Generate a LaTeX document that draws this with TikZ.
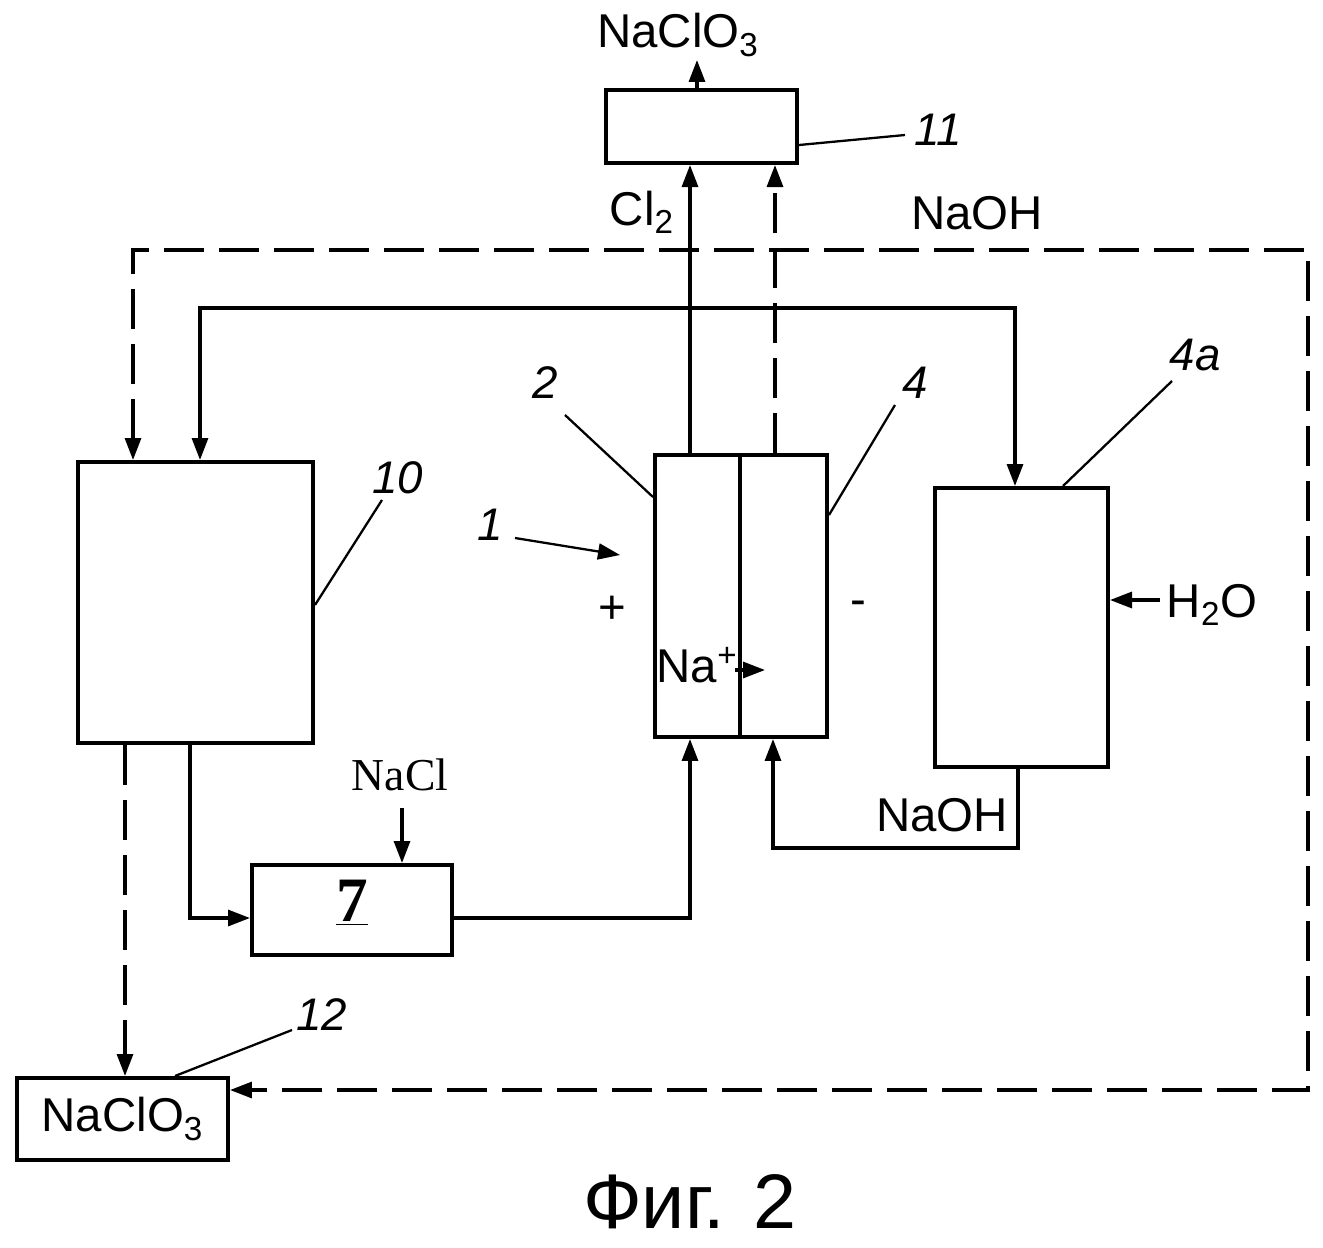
\documentclass[tikz,border=0pt]{standalone}
\usepackage{fontspec}
\setmainfont{Liberation Sans}
\newfontfamily\serifnum{Liberation Serif}
\usetikzlibrary{arrows.meta}

\begin{document}
\begin{tikzpicture}[x=0.02cm, y=-0.02cm, line width=1.8pt,
    >={Triangle[length=0.44cm, width=0.32cm]},
    unit/.style={rectangle, draw, line width=2.3pt, inner sep=0pt},
    dashline/.style={dash pattern=on 0.8cm off 0.3cm},
    lead/.style={line width=1.3pt},
    ref/.style={font=\fontsize{26}{28}\selectfont\itshape},
    chem/.style={font=\fontsize{27}{30}\selectfont}]
            \useasboundingbox (0,0) rectangle (1323,1248);

              % units
              \node[unit, minimum width=4.7cm, minimum height=5.62cm] (b10) at (195.5,602.5) {};
              \node[unit, minimum width=3.82cm, minimum height=1.46cm] (b11) at (701.5,126.5) {};
              \node[unit, minimum width=3.44cm, minimum height=5.64cm] (cell) at (741,596) {};
              \node[unit, minimum width=3.46cm, minimum height=5.58cm] (b4a) at (1021.5,627.5) {};
              \node[unit, minimum width=4cm, minimum height=1.8cm] (b7) at (352,910) {};
              \node[unit, minimum width=4.22cm, minimum height=1.64cm, chem] (b12) at (122.5,1119) {NaClO\textsubscript{3}};
              \draw[line width=2pt] (740,0 |- cell.north) -- (740,0 |- cell.south);

              % texts
              \node[chem] (out) at (678,35) {NaClO\textsubscript{3}};
              \node[chem] (cl) at (642,212) {Cl\textsubscript{2}};
              \node[chem] (naohtop) at (977,213) {NaOH};
              \node[chem] (naohbot) at (942,815) {NaOH};
              \node[chem] (h2o) at (1212,605) {H\textsubscript{2}O};
              \node[chem] (plus) at (612,610) {+};
              \node[chem] (minus) at (858,608) {-};
              \node[chem, anchor=east] (na) at (745,665) {Na\textsuperscript{+}};
              \node[font=\fontsize{26}{28}\serifnum] (nacl) at (400,775) {NaCl};
              \node[font=\fontsize{36}{38}\serifnum\bfseries] (seven) at (352,903) {\underline{7}};
              \node[font=\fontsize{44}{48}\selectfont] (caption) at (690,1202) {Фиг. 2};

              % reference numbers
              \node[ref] (r1) at (490,525) {1};
              \node[ref] (r2) at (545,383) {2};
              \node[ref] (r4) at (915,383) {4};
              \node[ref] (r4a) at (1195,355) {4a};
              \node[ref] (r10) at (398,478) {10};
              \node[ref] (r11) at (938,130) {11};
              \node[ref] (r12) at (322,1015) {12};

              \coordinate (p1) at (620,555);
              \coordinate (naend) at (765,670);

              % flows
              \draw[->] (690,0 |- cell.north) -- (690,0 |- b11.south);
              \draw[->, dashline] (775,0 |- cell.north) -- (775,0 |- b11.south);
              \draw[->] (697,0 |- b11.north) -- (697,60);
              \draw[<->] (200,0 |- b10.north) -- (200,308) -- (1015,308) -- (1015,0 |- b4a.north);
              \draw[<->, dashline] (133,0 |- b10.north) -- (133,250) -- (1308,250) -- (1308,1090) -- (b12.east |- 0,1090);
              \draw[->, dashline] (125,0 |- b10.south) -- (125,0 |- b12.north);
              \draw[->] (190,0 |- b10.south) -- (190,918) -- (b7.west |- 0,918);
              \draw[->] (b7.east |- 0,918) -- (690,918) -- (690,0 |- cell.south);
              \draw[->] (1018,0 |- b4a.south) -- (1018,848) -- (773,848) -- (773,0 |- cell.south);
              \draw[->] (402,808) -- (402,0 |- b7.north);
              \draw[->] (1160,600) -- (b4a.east |- 0,600);
              \draw[->] (735,670) -- (naend);
              \draw[->, lead] (515,538) -- (p1);

              % leaders
              \draw[lead] (b11.east |- 0,145) -- (905,135);
              \draw[lead] (565,415) -- (cell.west |- 0,497);
              \draw[lead] (895,405) -- (cell.east |- 0,515);
              \draw[lead] (1063,0 |- b4a.north) -- (1172,381);
              \draw[lead] (b10.east |- 0,605) -- (382,500);
              \draw[lead] (175,0 |- b12.north) -- (292,1030);

            \end{tikzpicture}
\end{document}
